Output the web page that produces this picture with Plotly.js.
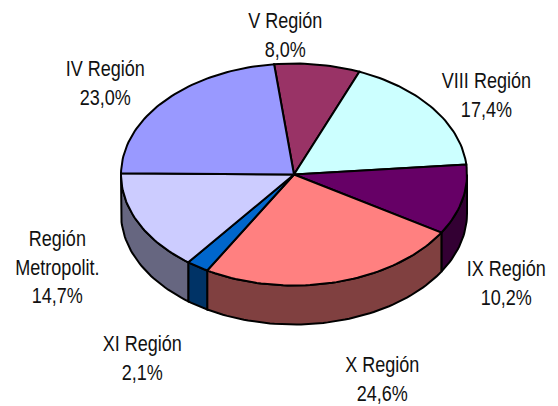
<!DOCTYPE html>
<html>
<head>
<meta charset="utf-8">
<script src="https://cdn.plot.ly/plotly-3.0.1.min.js"></script>
<style>html,body{margin:0;padding:0;background:#fff;overflow:hidden}#chart{width:558px;height:406px}</style>
</head>
<body>
<div id="chart"></div>
<script>
// Data, clockwise from the start angle
var categories = ["V Región", "VIII Región", "IX Región", "X Región", "XI Región", "Región<br>Metropolit.", "IV Región"];
var shares = [8.0, 17.4, 10.2, 24.6, 2.1, 14.7, 23.0];
var topColors = ["#993366", "#CCFFFF", "#660066", "#FF8080", "#0066CC", "#CCCCFF", "#9999FF"];
var wallColors = ["#4D1A33", "#668080", "#330033", "#804040", "#003366", "#666680", "#4D4D80"];
var labelX = [285, 486.5, 506, 382, 142, 57, 105];
var labelY = [34.5, 94.5, 282.5, 378.5, 357.5, 266.5, 82.5];

// Projection of the tilted disc
var cx = 294, cy = 174.5, rx = 173, ry = 111, depth = 39, startDeg = -6.6;
var total = shares.reduce(function (a, b) { return a + b; }, 0);

function px(t) { return cx + rx * Math.sin(t * Math.PI / 180); }
function py(t) { return cy - ry * Math.cos(t * Math.PI / 180); }
function arc(a, b) {
  var n = Math.max(2, Math.ceil(Math.abs(b - a) / 1.5)), out = [];
  for (var i = 0; i <= n; i++) out.push(a + (b - a) * i / n);
  return out;
}
var line = { color: "#000", width: 2 };
var traces = [];
var angle = startDeg, spans = [];
shares.forEach(function (v) {
  var end = angle + v / total * 360;
  spans.push([angle, end]);
  angle = end;
});

// Side walls (only the front half of the rim is visible)
spans.forEach(function (s, i) {
  var a = Math.max(s[0], 90), b = Math.min(s[1], 270);
  if (b <= a) return;
  var ts = arc(a, b), x = [], y = [];
  ts.forEach(function (t) { x.push(px(t)); y.push(py(t)); });
  ts.slice().reverse().forEach(function (t) { x.push(px(t)); y.push(py(t) + depth); });
  x.push(x[0]); y.push(y[0]);
  traces.push({ type: "scatter", mode: "lines", x: x, y: y, fill: "toself", fillcolor: wallColors[i], line: line, hoverinfo: "skip" });
});

// Top faces
spans.forEach(function (s, i) {
  var x = [cx], y = [cy];
  arc(s[0], s[1]).forEach(function (t) { x.push(px(t)); y.push(py(t)); });
  x.push(cx); y.push(cy);
  traces.push({ type: "scatter", mode: "lines", x: x, y: y, fill: "toself", fillcolor: topColors[i], line: line, hoverinfo: "skip" });
});

var annotations = categories.map(function (c, i) {
  return {
    x: labelX[i], y: labelY[i], xref: "x", yref: "y", showarrow: false, align: "center",
    text: c + "<br>" + shares[i].toFixed(1).replace(".", ",") + "%"
  };
});

Plotly.newPlot("chart", traces, {
  width: 558, height: 406,
  margin: { l: 0, r: 0, t: 0, b: 0 },
  paper_bgcolor: "#fff", plot_bgcolor: "#fff",
  showlegend: false,
  font: { family: "'Liberation Sans', Arial, sans-serif", size: 22, color: "#111" },
  xaxis: { range: [0, 558], visible: false, fixedrange: true },
  yaxis: { range: [406, 0], visible: false, fixedrange: true },
  annotations: annotations
}, { displayModeBar: false, staticPlot: true }).then(function () {
  // Narrow the label glyphs (no narrow face is installed)
  document.querySelectorAll("#chart .annotation-text").forEach(function (t) {
    var b = t.getBBox(), c = b.x + b.width / 2;
    t.setAttribute("transform", "translate(" + c + " 0) scale(0.82 1) translate(" + (-c) + " 0)");
  });
});
</script>
</body>
</html>
